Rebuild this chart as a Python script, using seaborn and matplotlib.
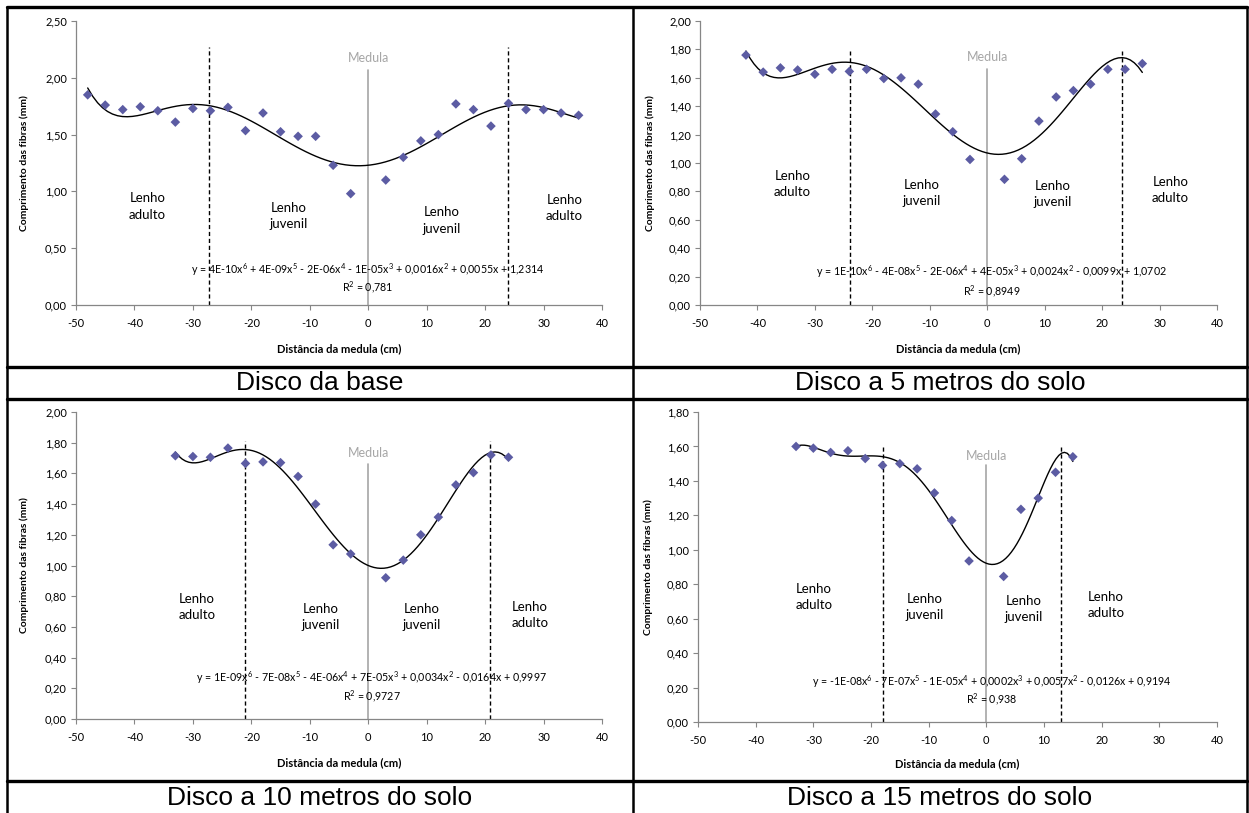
import matplotlib
matplotlib.use('Agg')
import matplotlib.pyplot as plt
import seaborn as sns
from matplotlib.lines import Line2D
from matplotlib.ticker import FixedLocator, FuncFormatter

# ---- data ----
dist_base = [-48, -45, -42, -39, -36, -33, -30, -27, -24, -21, -18, -15, -12, -9, -6, -3,
             3, 6, 9, 12, 15, 18, 21, 24, 27, 30, 33, 36]
comp_base = [1.85, 1.76, 1.72, 1.745, 1.71, 1.61, 1.73, 1.71, 1.74, 1.535, 1.69, 1.525, 1.485, 1.485,
             1.23, 0.98, 1.10, 1.30, 1.445, 1.50, 1.77, 1.72, 1.575, 1.775, 1.72, 1.72, 1.69, 1.67]

dist_5m = [-42, -39, -36, -33, -30, -27, -24, -21, -18, -15, -12, -9, -6, -3,
           3, 6, 9, 12, 15, 18, 21, 24, 27]
comp_5m = [1.76, 1.64, 1.67, 1.655, 1.625, 1.66, 1.645, 1.66, 1.595, 1.60, 1.555, 1.345, 1.22, 1.025,
           0.885, 1.03, 1.295, 1.465, 1.51, 1.555, 1.66, 1.66, 1.70]

dist_10m = [-33, -30, -27, -24, -21, -18, -15, -12, -9, -6, -3,
            3, 6, 9, 12, 15, 18, 21, 24]
comp_10m = [1.715, 1.71, 1.705, 1.765, 1.665, 1.675, 1.67, 1.58, 1.40, 1.135, 1.075,
            0.92, 1.035, 1.20, 1.315, 1.525, 1.605, 1.72, 1.705]

dist_15m = [-33, -30, -27, -24, -21, -18, -15, -12, -9, -6, -3,
            3, 6, 9, 12, 15]
comp_15m = [1.60, 1.59, 1.565, 1.575, 1.53, 1.49, 1.50, 1.47, 1.33, 1.17, 0.935,
            0.845, 1.235, 1.30, 1.45, 1.54]

# boundaries juvenile / adult wood (cm)
limits_base = [-27.2, 23.9]
limits_5m = [-23.9, 23.4]
limits_10m = [-21.1, 20.9]
limits_15m = [-18.0, 13.0]

eq_base = 'y = 4E-10x$^6$ + 4E-09x$^5$ - 2E-06x$^4$ - 1E-05x$^3$ + 0,0016x$^2$ + 0,0055x + 1,2314'
eq_5m = 'y = 1E-10x$^6$ - 4E-08x$^5$ - 2E-06x$^4$ + 4E-05x$^3$ + 0,0024x$^2$ - 0,0099x + 1,0702'
eq_10m = 'y = 1E-09x$^6$ - 7E-08x$^5$ - 4E-06x$^4$ + 7E-05x$^3$ + 0,0034x$^2$ - 0,0164x + 0,9997'
eq_15m = 'y = -1E-08x$^6$ - 7E-07x$^5$ - 1E-05x$^4$ + 0,0002x$^3$ + 0,0057x$^2$ - 0,0126x + 0,9194'
r2_values = ['0,781', '0,8949', '0,9727', '0,938']

captions = ['Disco da base', 'Disco a 5 metros do solo',
            'Disco a 10 metros do solo', 'Disco a 15 metros do solo']
zone_labels = ['Lenho\nadulto', 'Lenho\njuvenil', 'Lenho\njuvenil', 'Lenho\nadulto']
x_ticks = [-50, -40, -30, -20, -10, 0, 10, 20, 30, 40]

# ---- style ----
sns.set_theme(style='white')
plt.rcParams['font.family'] = ['Lato', 'DejaVu Sans']
plt.rcParams['text.color'] = 'black'
plt.rcParams['axes.labelcolor'] = 'black'
plt.rcParams['mathtext.fontset'] = 'custom'
plt.rcParams['mathtext.rm'] = 'Lato'
plt.rcParams['mathtext.it'] = 'Lato:italic'
plt.rcParams['mathtext.bf'] = 'Lato:bold'

W, H = 1249, 813
fig = plt.figure(figsize=(W / 100, H / 100), dpi=100)
fig.patch.set_facecolor('white')

marker_color = '#5C5CA3'
axis_color = '#868686'


def px_axes(left, right, top, bottom):
    return fig.add_axes([left / W, 1 - bottom / H, (right - left) / W, (bottom - top) / H])


panels = [
    dict(ax=px_axes(76, 602, 21, 305), x=dist_base, y=comp_base, lim=limits_base,
         ytop=2.5, ystep=0.5, dash_top=2.27, med_top=2.07, med_txt=2.175,
         zones=[(-37.8, 0.867), (-13.6, 0.785), (12.6, 0.744), (33.6, 0.852)],
         eq=eq_base, eq_pos=(-0.1, 0.31, 0.158), ylab=-0.098, xlab=-0.155),
    dict(ax=px_axes(700, 1217, 21, 305), x=dist_5m, y=comp_5m, lim=limits_5m,
         ytop=2.0, ystep=0.2, dash_top=1.79, med_top=1.665, med_txt=1.75,
         zones=[(-33.9, 0.852), (-11.4, 0.787), (11.4, 0.78), (31.9, 0.81)],
         eq=eq_5m, eq_pos=(0.8, 0.232, 0.10), ylab=-0.097, xlab=-0.155),
    dict(ax=px_axes(76, 602, 412, 719), x=dist_10m, y=comp_10m, lim=limits_10m,
         ytop=2.0, ystep=0.2, dash_top=1.81, med_top=1.66, med_txt=1.73,
         zones=[(-29.3, 0.729), (-8.1, 0.664), (9.1, 0.664), (27.7, 0.679)],
         eq=eq_10m, eq_pos=(0.6, 0.267, 0.148), ylab=-0.098, xlab=-0.143),
    dict(ax=px_axes(698, 1217, 412, 722), x=dist_15m, y=comp_15m, lim=limits_15m,
         ytop=1.8, ystep=0.2, dash_top=1.61, med_top=1.49, med_txt=1.545,
         zones=[(-29.9, 0.725), (-10.7, 0.667), (6.4, 0.655), (20.7, 0.68)],
         eq=eq_15m, eq_pos=(0.9, 0.236, 0.13), ylab=-0.095, xlab=-0.135),
]

for i, p in enumerate(panels):
    ax = p['ax']
    ax.set_facecolor('white')

    # 6th order polynomial trendline + observed points
    sns.regplot(x=p['x'], y=p['y'], order=6, ci=None, scatter=False, truncate=True,
                color='black', line_kws={'lw': 1.0}, ax=ax)
    sns.scatterplot(x=p['x'], y=p['y'], marker='D', s=24, color=marker_color,
                    edgecolor='none', ax=ax, zorder=3)

    # pith line and wood zone limits
    ax.plot([0, 0], [0, p['med_top']], color='#a6a6a6', lw=1.2, zorder=1)
    ax.text(0, p['med_txt'], 'Medula', color='#a6a6a6', fontsize=9, ha='center', va='center')
    for b in p['lim']:
        ax.plot([b, b], [0, p['dash_top']], color='black', lw=1.0, ls=(0, (3, 2)), zorder=2)

    for (zx, zy), lab in zip(p['zones'], zone_labels):
        ax.text(zx, zy, lab, fontsize=9.5, ha='center', va='center', linespacing=1.45)

    ex, ey, ry = p['eq_pos']
    ax.text(ex, ey, p['eq'], fontsize=7.7, ha='center', va='center')
    ax.text(ex, ry, 'R$^2$ = ' + r2_values[i], fontsize=7.7, ha='center', va='center')

    # axes
    ax.set_xlim(-50, 40)
    ax.set_ylim(0, p['ytop'])
    n = int(round(p['ytop'] / p['ystep']))
    ax.yaxis.set_major_locator(FixedLocator([k * p['ystep'] for k in range(n + 1)]))
    ax.yaxis.set_major_formatter(FuncFormatter(lambda v, pos: f'{v:.2f}'.replace('.', ',')))
    ax.xaxis.set_major_locator(FixedLocator(x_ticks))
    ax.xaxis.set_major_formatter(FuncFormatter(lambda v, pos: f'{v:.0f}'))
    for s in ['top', 'right']:
        ax.spines[s].set_visible(False)
    for s in ['left', 'bottom']:
        ax.spines[s].set_color(axis_color)
        ax.spines[s].set_linewidth(0.9)
    ax.tick_params(axis='both', direction='out', length=3.5, width=0.8, color=axis_color,
                   labelsize=8, labelcolor='black', pad=3, bottom=True, left=True)
    ax.tick_params(axis='x', pad=6)
    ax.grid(False)

    ax.set_xlabel('Distância da medula (cm)', fontsize=8, fontweight='bold', color='black')
    ax.set_ylabel('Comprimento das fibras (mm)', fontsize=7.5, fontweight='bold', color='black')
    ax.xaxis.set_label_coords(0.5, p['xlab'])
    ax.xaxis.label.set_va('center')
    ax.yaxis.set_label_coords(p['ylab'], 0.5)
    ax.yaxis.label.set_va('center')

# ---- table frame and captions ----
def hline(y, x0=7, x1=1247, lw=2.4):
    fig.add_artist(Line2D([x0 / W, x1 / W], [1 - y / H, 1 - y / H], color='black', lw=lw))


def vline(x, y0=7, y1=813, lw=1.8):
    fig.add_artist(Line2D([x / W, x / W], [1 - y0 / H, 1 - y1 / H], color='black', lw=lw))


hline(7)
hline(367)
hline(399)
hline(781)
vline(7)
vline(633)
vline(1247)

caption_pos = [(320, 383), (940, 383), (320, 798), (940, 798)]
for (cx, cy), cap in zip(caption_pos, captions):
    fig.text(cx / W, 1 - cy / H, cap, fontsize=19, family='Liberation Sans',
             color='black', ha='center', va='center')

fig.savefig('out.png', dpi=100, facecolor='white')
